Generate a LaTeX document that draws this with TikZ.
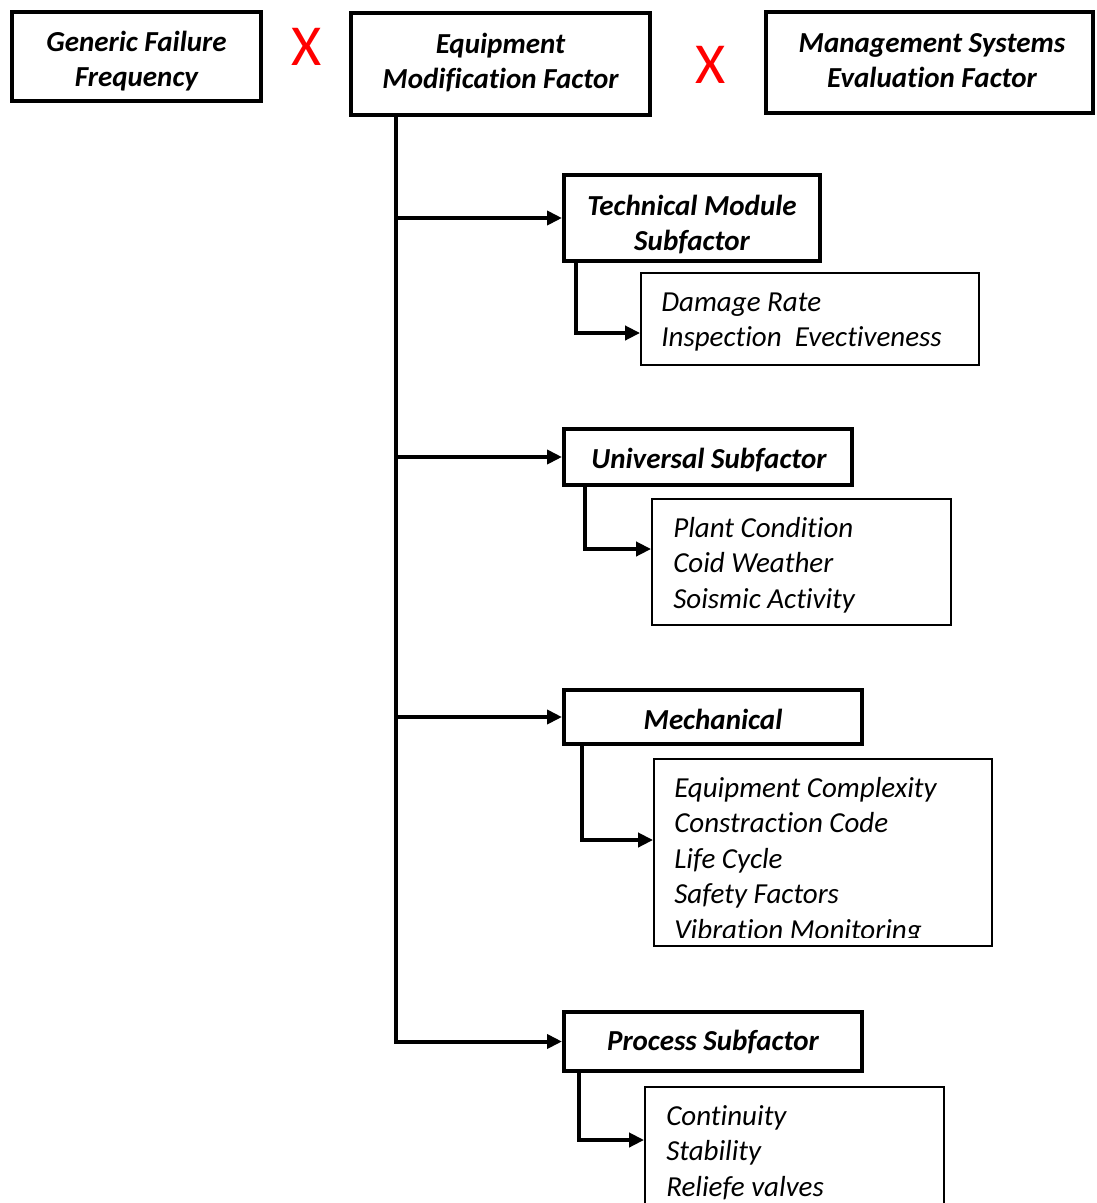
\documentclass[tikz,border=0pt]{standalone}
\usepackage{fontspec}
\setmainfont[Ligatures=NoCommon]{Carlito}
\usetikzlibrary{arrows.meta}
\begin{document}
\begin{tikzpicture}[x=1pt,y=-1pt,
  head/.style={draw,line width=4pt,inner sep=0pt},
  headtext/.style={align=center,inner sep=0pt,font=\fontsize{29}{35}\selectfont\bfseries\itshape},
  listbox/.style={draw,line width=1.8pt,inner sep=0pt},
  item/.style={anchor=base west,inner sep=0pt,font=\fontsize{29}{30}\selectfont\itshape},
  times/.style={text=red,inner sep=0pt,font=\fontsize{58}{58}\selectfont},
  arr/.style={line width=4pt,-{Triangle[length=15pt,width=14pt]}}]
\useasboundingbox (0,0) rectangle (1097,1203);
% top row
\node[head,minimum width=249,minimum height=89] (gff) at (136.5,56.5) {};
\node[head,minimum width=299,minimum height=102] (emf) at (500.5,64) {};
\node[head,minimum width=327,minimum height=101] (msef) at (929.5,62.5) {};
\node[headtext] (gff-t) at (136.5,61.5) {Generic Failure\\Frequency};
\node[headtext] (emf-t) at (500.5,62.5) {Equipment\\Modification Factor};
\node[headtext] (msef-t) at (932,61) {Management Systems\\Evaluation Factor};
\node[times] (x1) at (306.5,47) {X};
\node[times] (x2) at (711,65) {X};
% subfactors
\node[head,minimum width=256,minimum height=86] (tms) at (692,218) {};
\node[head,minimum width=288,minimum height=56] (uni) at (708,457) {};
\node[head,minimum width=298,minimum height=54] (mech) at (713,717) {};
\node[head,minimum width=298,minimum height=59] (proc) at (713,1041.5) {};
\node[headtext] (tms-t) at (692,224.5) {Technical Module\\Subfactor};
\node[headtext] (uni-t) at (709,460) {Universal Subfactor};
\node[headtext] (mech-t) at (713,719) {Mechanical};
\node[headtext] (proc-t) at (713,1042) {Process Subfactor};
\node[listbox,minimum width=338,minimum height=92] (dmg) at (810,319) {};
\node[listbox,minimum width=299,minimum height=126] (plant) at (801.5,562) {};
\node[listbox,minimum width=338,minimum height=187] (equip) at (823,852.5) {};
\node[listbox,minimum width=299,minimum height=153] (cont) at (794.5,1163.5) {};
% items
\foreach \t [count=\i] in {Damage Rate,Inspection~~Evectiveness}
  \node[item] (dmg-\i) at ([shift={(21,{39+(\i-1)*35.6})}]dmg.north west) {\t};
\foreach \t [count=\i] in {Plant Condition,Coid Weather,Soismic Activity}
  \node[item] (plant-\i) at ([shift={(22,{39+(\i-1)*35.6})}]plant.north west) {\t};
\begin{scope}
\clip (equip.north west) rectangle ([yshift=9pt]equip.south east);
\foreach \t [count=\i] in {Equipment Complexity,Constraction Code,Life Cycle,Safety Factors,Vibration Monitoring}
  \node[item] (equip-\i) at ([shift={(21,{39+(\i-1)*35.6})}]equip.north west) {\t};
\end{scope}
\foreach \t [count=\i] in {Continuity,Stability,Reliefe valves}
  \node[item] (cont-\i) at ([shift={(22,{39+(\i-1)*35.6})}]cont.north west) {\t};
% connectors
\coordinate (trunk) at (396,117);
\draw[arr] (emf.south -| trunk) |- (proc.west);
\draw[arr] (tms.west -| trunk) -- (tms.west);
\draw[arr] (uni.west -| trunk) -- (uni.west);
\draw[arr] (mech.west -| trunk) -- (mech.west);
\draw[arr] ([xshift=14pt]tms.south west) |- ([yshift=-14pt]dmg.west);
\draw[arr] ([xshift=23pt]uni.south west) |- ([yshift=13pt]plant.west);
\draw[arr] ([xshift=20pt]mech.south west) |- ([yshift=12.5pt]equip.west);
\draw[arr] ([xshift=17pt]proc.south west) |- ([yshift=23.5pt]cont.west);
\end{tikzpicture}
\end{document}
